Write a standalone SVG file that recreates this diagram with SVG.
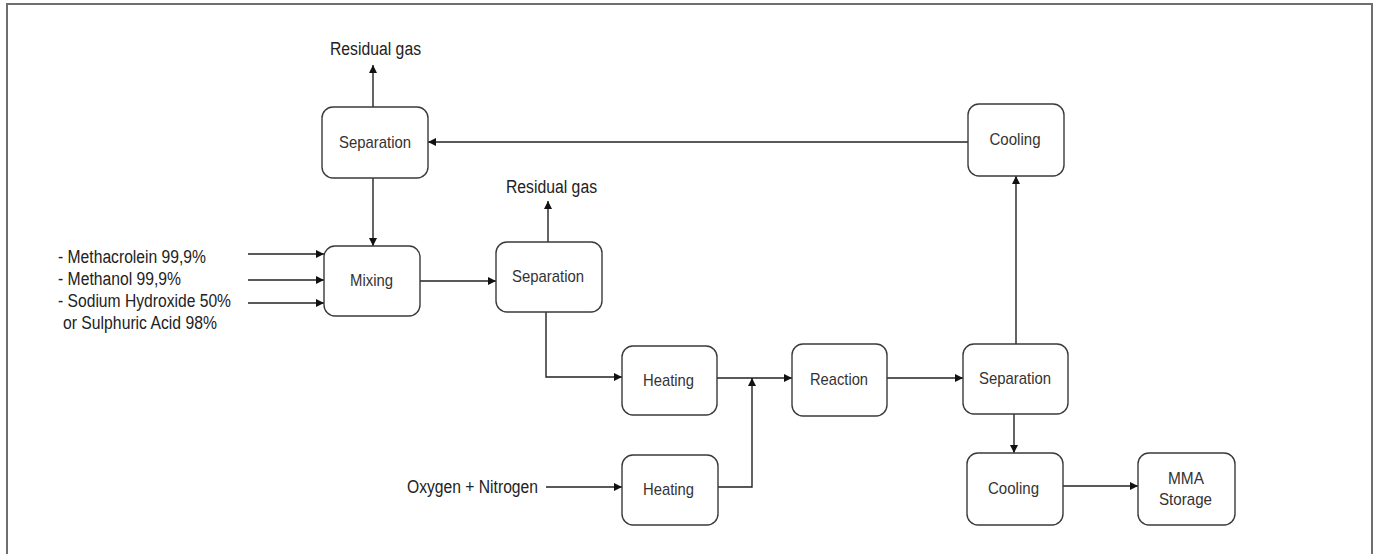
<svg xmlns="http://www.w3.org/2000/svg" width="1375" height="554" viewBox="0 0 1375 554">
<style>
.frame{fill:none;stroke:#6e6e6e;stroke-width:2}
.box{fill:#fff;stroke:#3a3a3a;stroke-width:1.4}
.nt{font-family:"Liberation Sans",Arial,sans-serif;font-size:17px;fill:#333;text-anchor:middle}
.lt{font-family:"Liberation Sans",Arial,sans-serif;font-size:18px;fill:#222}
.c{fill:none;stroke:#222;stroke-width:1.4}
</style>
<defs>
<marker id="ah" viewBox="0 0 10 10" refX="10" refY="5" markerWidth="9" markerHeight="8" markerUnits="userSpaceOnUse" orient="auto">
<path d="M0,0 L10,5 L0,10 z" fill="#111"/>
</marker>
</defs>
<rect width="1375" height="554" fill="#fff"/>
<rect class="frame" x="7" y="4" width="1365" height="600"/>

<g id="connectors">
<path class="c" d="M373,107 V65" marker-end="url(#ah)"/>
<path class="c" d="M373,178 V246" marker-end="url(#ah)"/>
<path class="c" d="M968,142 H428" marker-end="url(#ah)"/>
<path class="c" d="M248,254 H324" marker-end="url(#ah)"/>
<path class="c" d="M248,280 H324" marker-end="url(#ah)"/>
<path class="c" d="M248,303 H324" marker-end="url(#ah)"/>
<path class="c" d="M420,281 H496" marker-end="url(#ah)"/>
<path class="c" d="M548,242 V201" marker-end="url(#ah)"/>
<path class="c" d="M546,312 V377 H622" marker-end="url(#ah)"/>
<path class="c" d="M717,378 H792" marker-end="url(#ah)"/>
<path class="c" d="M718,487 H752 V378" marker-end="url(#ah)"/>
<path class="c" d="M546,487 H622" marker-end="url(#ah)"/>
<path class="c" d="M887,378 H963" marker-end="url(#ah)"/>
<path class="c" d="M1016,344 V176" marker-end="url(#ah)"/>
<path class="c" d="M1014,414 V453" marker-end="url(#ah)"/>
<path class="c" d="M1063,486 H1138" marker-end="url(#ah)"/>
</g>

<g id="labels">
<text class="lt" x="330" y="55" textLength="91" lengthAdjust="spacingAndGlyphs">Residual gas</text>
<text class="lt" x="506" y="193" textLength="91" lengthAdjust="spacingAndGlyphs">Residual gas</text>
<text class="lt" x="58" y="263" textLength="148" lengthAdjust="spacingAndGlyphs">- Methacrolein 99,9%</text>
<text class="lt" x="58" y="285" textLength="123" lengthAdjust="spacingAndGlyphs">- Methanol 99,9%</text>
<text class="lt" x="58" y="307" textLength="173" lengthAdjust="spacingAndGlyphs">- Sodium Hydroxide 50%</text>
<text class="lt" x="63" y="329" textLength="154" lengthAdjust="spacingAndGlyphs">or Sulphuric Acid 98%</text>
<text class="lt" x="407" y="493" textLength="131" lengthAdjust="spacingAndGlyphs">Oxygen + Nitrogen</text>
</g>

<g id="sep-top"><rect class="box" x="322" y="107" width="106" height="71" rx="11"/><text class="nt" x="375" y="148" textLength="72" lengthAdjust="spacingAndGlyphs">Separation</text></g>
<g id="mixing"><rect class="box" x="324" y="246" width="96" height="70" rx="11"/><text class="nt" x="371.5" y="286" textLength="43" lengthAdjust="spacingAndGlyphs">Mixing</text></g>
<g id="sep-mid"><rect class="box" x="496" y="242" width="106" height="70" rx="11"/><text class="nt" x="548" y="282" textLength="72" lengthAdjust="spacingAndGlyphs">Separation</text></g>
<g id="heat-top"><rect class="box" x="622" y="346" width="95" height="69" rx="11"/><text class="nt" x="668.5" y="386" textLength="51" lengthAdjust="spacingAndGlyphs">Heating</text></g>
<g id="heat-bot"><rect class="box" x="622" y="455" width="96" height="70" rx="11"/><text class="nt" x="668.5" y="495" textLength="51" lengthAdjust="spacingAndGlyphs">Heating</text></g>
<g id="reaction"><rect class="box" x="792" y="344" width="95" height="72" rx="11"/><text class="nt" x="839" y="385" textLength="58" lengthAdjust="spacingAndGlyphs">Reaction</text></g>
<g id="sep-right"><rect class="box" x="963" y="344" width="105" height="70" rx="11"/><text class="nt" x="1015" y="384" textLength="72" lengthAdjust="spacingAndGlyphs">Separation</text></g>
<g id="cool-top"><rect class="box" x="968" y="104" width="96" height="72" rx="11"/><text class="nt" x="1015" y="145" textLength="51" lengthAdjust="spacingAndGlyphs">Cooling</text></g>
<g id="cool-bot"><rect class="box" x="967" y="453" width="96" height="72" rx="11"/><text class="nt" x="1013.5" y="494" textLength="51" lengthAdjust="spacingAndGlyphs">Cooling</text></g>
<g id="mma"><rect class="box" x="1138" y="453" width="97" height="72" rx="11"/><text class="nt" x="1186" y="484" textLength="36" lengthAdjust="spacingAndGlyphs">MMA</text><text class="nt" x="1185.5" y="505" textLength="53" lengthAdjust="spacingAndGlyphs">Storage</text></g>
</svg>
